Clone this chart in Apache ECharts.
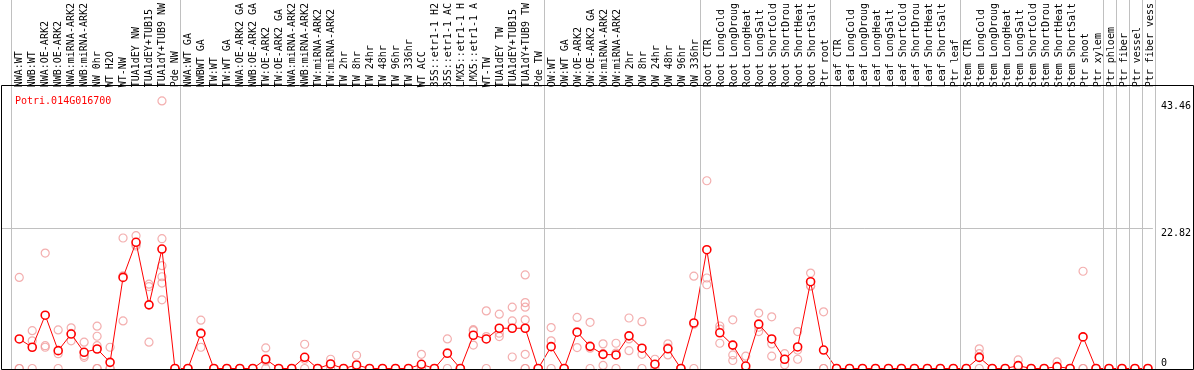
<!DOCTYPE html>
<html><head><meta charset="utf-8">
<script src="https://cdn.jsdelivr.net/npm/echarts@6/dist/echarts.min.js"></script>
<style>html,body{margin:0;padding:0;background:#fff}#c{width:1194px;height:370px}</style>
</head><body><div id="c"></div>
<script>
const geneName = 'Potri.014G016700';
const categories = [
 'NWA:WT','NWB:WT','NWA:OE-ARK2','NWB:OE-ARK2','NWA:miRNA-ARK2','NWB:miRNA-ARK2','NW 0hr','WT H2O','WT-NW','TUA1dEY NW','TUA1dEY+TUB15','TUA1dY+TUB9 NW','Pde NW',
 'NWA:WT GA','NWBWT GA','TW:WT','TW:WT GA','NWA:OE-ARK2 GA','NWB:OE-ARK2 GA','TW:OE-ARK2','TW:OE-ARK2 GA','NWA:miRNA-ARK2','NWB:miRNA-ARK2','TW:miRNA-ARK2','TW:miRNA-ARK2','TW 2hr','TW 8hr','TW 24hr','TW 48hr','TW 96hr','TW 336hr','WT ACC','35S::etr1-1 H2','35S::etr1-1 AC','LMX5::etr1-1 H','LMX5::etr1-1 A','WT-TW','TUA1dEY TW','TUA1dEY+TUB15','TUA1dY+TUB9 TW','Pde TW',
 'OW:WT','OW:WT GA','OW:OE-ARK2','OW:OE-ARK2 GA','OW:miRNA-ARK2','OW:miRNA-ARK2','OW 2hr','OW 8hr','OW 24hr','OW 48hr','OW 96hr','OW 336hr',
 'Root CTR','Root LongCold','Root LongDroug','Root LongHeat','Root LongSalt','Root ShortCold','Root ShortDrou','Root ShortHeat','Root ShortSalt','Ptr root',
 'Leaf CTR','Leaf LongCold','Leaf LongDroug','Leaf LongHeat','Leaf LongSalt','Leaf ShortCold','Leaf ShortDrou','Leaf ShortHeat','Leaf ShortSalt','Ptr leaf',
 'Stem CTR','Stem LongCold','Stem LongDroug','Stem LongHeat','Stem LongSalt','Stem ShortCold','Stem ShortDrou','Stem ShortHeat','Stem ShortSalt','Ptr shoot','Ptr xylem',
 'Ptr phloem','Ptr fiber','Ptr vessel','Ptr fiber vess'
];
// index of first category of each separated group (last entry = end)
const groupStarts = [0, 13, 41, 53, 63, 73, 84, 85, 86, 87, 88];
const meanValues = [
 4.8, 3.45, 8.66, 2.9, 5.6, 2.63, 3.17, 1.0, 14.8, 20.5, 10.34, 19.4, 0,
 0, 5.7, 0, 0, 0, 0, 1.5, 0, 0, 1.82, 0, 0.73, 0, 0.57, 0, 0, 0, 0, 0.68, 0, 2.47, 0, 5.4, 4.8, 6.54, 6.54, 6.54, 0,
 3.55, 0, 5.9, 3.6, 2.3, 2.2, 5.3, 3.3, 0.7, 3.2, 0, 7.4,
 19.3, 5.8, 3.8, 0.4, 7.2, 4.8, 1.5, 3.5, 14.1, 3.0,
 0, 0, 0, 0, 0, 0, 0, 0, 0, 0,
 0, 1.8, 0, 0, 0.46, 0, 0, 0.3, 0, 5.13, 0,
 0, 0, 0, 0
];
const replicateValues = [
 [14.8,0,0],[6.15,4.5,0],[18.75,3.7,3.45],[6.27,2.4,0],[6.6,4.5,5.7],[4.27,1.82,2.1],[6.87,5.24,3.7,0,0],[3.45,0,0],[21.2,15.06,7.73],[21.57,20.1,19.9],[13.7,13.3,4.27],[43.46,21.08,16.7,14.9,13.87,11.15],[0,0,0],
 [0,0,0],[7.85,5.8,3.45],[0,0,0],[0,0,0],[0,0,0],[0,0,0],[3.34,1.2,0],[0,0,0],[0,0,0],[3.94,1.5,0],[0,0,0],[1.5,0.7,0],[0,0,0],[2.15,0,0],[0,0,0],[0,0,0],[0,0,0],[0,0,0],[2.3,0,0],[0,0,0],[4.8,2.6,0],[0,0,0],[6.3,6.15,3.8],[9.36,5.18,0],[8.82,5.73,5.18],[9.96,7.73,1.87],[15.2,10.7,9.96,7.9,2.3,0,0],[0,0,0],
 [6.64,4.5,0],[0,0,0],[8.3,6.0,3.4],[7.5,3.3,0],[4.0,2.4,0.5],[4.1,2.5,0],[8.2,4.8,2.9],[7.6,2.3,0],[1.5,0.6,0],[4.0,3.4,2.2],[0,0,0],[15.0,7.2,0],
 [30.5,14.7,13.6],[6.4,6.9,4.1],[7.9,2.2,1.3],[2.0,0,0],[9.0,6.7,6.0],[8.4,4.0,2.0],[2.4,1.5,0.6],[6.0,3.0,1.5],[15.5,13.4,13.4],[9.2,0,0],
 [0,0,0],[0,0,0],[0,0,0],[0,0,0],[0,0,0],[0,0,0],[0,0,0],[0,0,0],[0,0,0],[0,0,0],
 [0,0,0],[3.2,2.4,0],[0,0,0],[0,0,0],[1.4,0,0],[0,0,0],[0,0,0],[1.06,0,0],[0,0,0],[15.8,0,0],[0,0,0],
 [0,0,0],[0,0,0],[0,0,0],[0,0,0]
];
const yTickLabels = [0, 22.82, 43.46];

const meanData = meanValues.map((v, i) => [i, v]);
const repData = [];
replicateValues.forEach((arr, i) => arr.forEach(v => repData.push([i, v])));

const STEP = 13, FIRST = 19.3, PLOT_LEFT = 1, PLOT_RIGHT = 1155.3;
const xMin = (PLOT_LEFT - FIRST) / STEP, xMax = (PLOT_RIGHT - FIRST) / STEP;
const Y_MAX = 46.05;
const FONT = 'DejaVu Sans Mono';

const chart = echarts.init(document.getElementById('c'), null, {renderer: 'canvas'});
chart.setOption({
  animation: false,
  backgroundColor: '#fff',
  title: {text: geneName, left: 10, top: 91, textStyle: {color: '#ff0000', fontFamily: FONT, fontSize: 10, fontWeight: 'normal'}},
  grid: [
    {left: PLOT_LEFT, width: PLOT_RIGHT - PLOT_LEFT, top: 85, bottom: 1.5},
    {left: FIRST - STEP / 2, width: STEP * categories.length, top: 85, height: 10},
    {left: PLOT_LEFT, width: PLOT_RIGHT - PLOT_LEFT, top: 0, bottom: 1}
  ],
  xAxis: [
    {type: 'value', gridIndex: 0, min: xMin, max: xMax, show: false},
    {type: 'category', gridIndex: 1, position: 'top', data: categories,
     axisLine: {show: false}, axisTick: {show: false},
     axisLabel: {interval: 0, rotate: 90, margin: 2, color: '#000', fontFamily: FONT, fontSize: 10}},
    {type: 'value', gridIndex: 2, min: xMin, max: xMax, show: false}
  ],
  yAxis: [
    {type: 'value', gridIndex: 0, min: 0, max: Y_MAX, position: 'right',
     axisLine: {show: false}, axisTick: {show: false, customValues: [yTickLabels[1]]},
     splitLine: {show: true, lineStyle: {color: '#c0c0c0', width: 1}},
     axisLabel: {customValues: yTickLabels.slice(1), formatter: v => String(v), margin: 8, verticalAlign: 'top', color: '#000', fontFamily: FONT, fontSize: 10}},
    {type: 'value', gridIndex: 0, min: 0, max: Y_MAX, position: 'right',
     axisLine: {show: false}, axisTick: {show: false}, splitLine: {show: false},
     axisLabel: {customValues: [yTickLabels[0]], formatter: v => String(v), margin: 8, verticalAlign: 'bottom', color: '#000', fontFamily: FONT, fontSize: 10}},
    {type: 'value', gridIndex: 1, show: false},
    {type: 'value', gridIndex: 2, min: 0, max: 1, show: false}
  ],
  graphic: [
    {type: 'rect', z: 100, silent: true, shape: {x: 1.5, y: 85.5, width: 1192, height: 284},
     style: {fill: 'none', stroke: '#000', lineWidth: 1}}
  ],
  series: [
    {type: 'line', xAxisIndex: 2, yAxisIndex: 3, data: [], silent: true,
     markLine: {silent: true, symbol: 'none', label: {show: false}, animation: false,
       lineStyle: {color: '#c0c0c0', width: 1, type: 'solid'},
       data: groupStarts.map(s => ({xAxis: s - 8 / STEP}))}},
    {type: 'scatter', xAxisIndex: 0, yAxisIndex: 0, data: repData, symbol: 'circle', symbolSize: 8,
     itemStyle: {color: 'rgba(0,0,0,0)', borderColor: '#f09a9a', borderWidth: 1.2}, z: 3},
    {type: 'line', xAxisIndex: 0, yAxisIndex: 0, data: meanData, symbol: 'circle', symbolSize: 8, showAllSymbol: true,
     lineStyle: {color: '#ff0000', width: 1}, itemStyle: {color: '#fff', borderColor: '#ff0000', borderWidth: 1.6}, z: 4}
  ]
});
</script></body></html>
